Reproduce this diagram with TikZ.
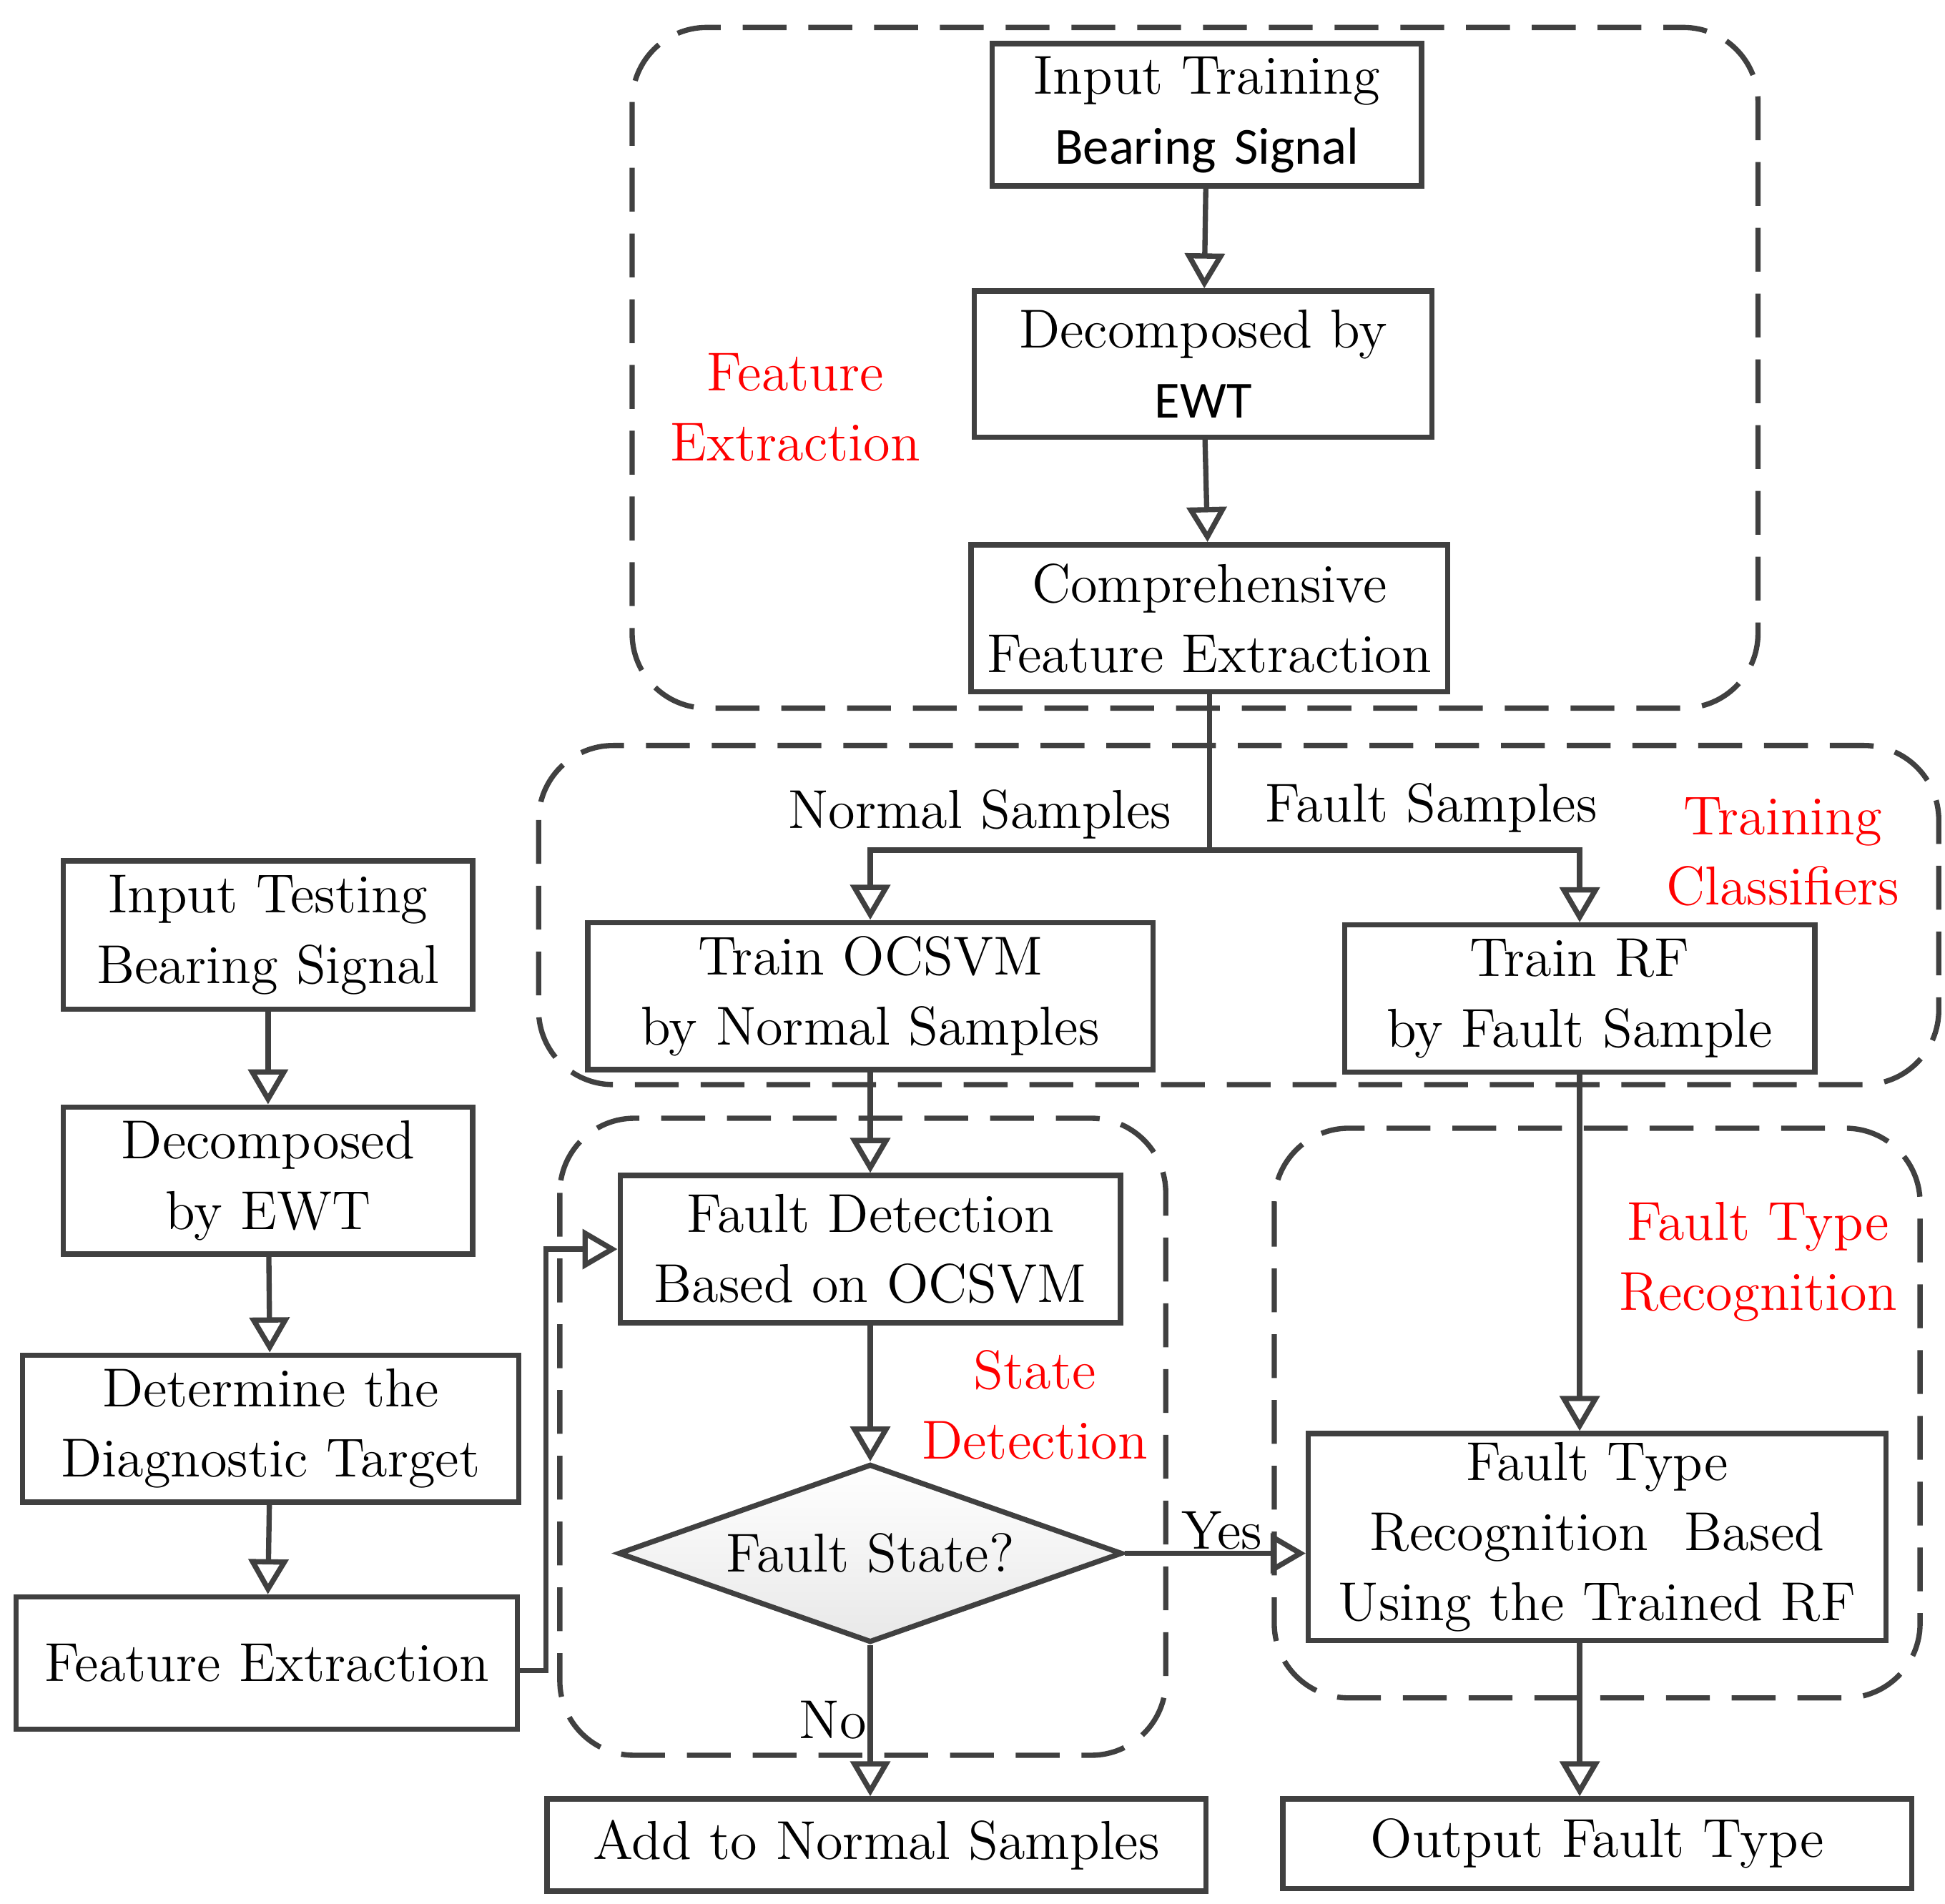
\documentclass[tikz,border=0pt]{standalone}
\usepackage{fontspec}
\newfontfamily\sansf[Scale=0.95]{Carlito}
\usetikzlibrary{shapes.geometric,arrows.meta}
\definecolor{linegray}{rgb}{0.25,0.25,0.25}
\tikzset{
  box/.style={draw=linegray,line width=1.2pt,align=center,inner sep=0pt,font=\fontsize{12.5}{16}\selectfont},
  flow/.style={draw=linegray,line width=1.2pt,-{Triangle[open,length=8pt,width=9pt]}},
  region/.style={draw=linegray,line width=1.2pt,dash pattern=on 10pt off 5pt,rounded corners=17pt},
  tag/.style={text=red,align=center,font=\fontsize{12.5}{16}\selectfont},
  lbl/.style={font=\fontsize{12.5}{16}\selectfont}
}
\begin{document}
\begin{tikzpicture}[x=0.01cm,y=-0.01cm]
\useasboundingbox (0,0) rectangle (1560,1527);
% dashed groups
\draw[region] (507,22) rectangle (1410,568);
\draw[region] (432,598) rectangle (1555,870);
\draw[region] (449,897) rectangle (935,1408);
\draw[region] (1022,905) rectangle (1540,1362);
\node[tag] at (638,327) {Feature\\Extraction};
\node[tag] at (1430,683) {Training\\Classifiers};
\node[tag] at (830,1127) {State\\Detection};
\node[tag] at (1410,1012) {Fault Type\\Recognition};
% training branch
\node[box,text width=3.44cm,minimum height=1.14cm] (intrain) at (968,92) {Input Training\\{\sansf Bearing Signal}};
\node[box,text width=3.67cm,minimum height=1.17cm] (dectrain) at (965,292) {Decomposed by\\{\sansf EWT}};
\node[box,text width=3.82cm,minimum height=1.18cm] (comp) at (970,496) {Comprehensive\\Feature Extraction};
\coordinate (split) at (970,682);
\node[box,text width=4.53cm,minimum height=1.18cm] (ocsvm) at (698,799) {Train OCSVM\\by Normal Samples};
\node[box,text width=3.77cm,minimum height=1.18cm] (rf) at (1267,801) {Train RF\\by Fault Sample};
\node[lbl] at (786,653) {Normal Samples};
\node[lbl] at (1148,648) {Fault Samples};
\node[box,text width=4.01cm,minimum height=1.18cm] (fd) at (698,1002) {Fault Detection\\Based on OCSVM};
\node[diamond,draw=linegray,line width=1.2pt,aspect=2.08,minimum width=4.04cm,inner sep=0pt,
  top color=white,bottom color=gray!18,font=\fontsize{12.5}{16}\selectfont] (state) at (698,1246) {Fault State?};
\node[box,text width=4.63cm,minimum height=1.66cm] (ftr) at (1281,1233) {Fault Type\\Recognition\ \ Based\\Using the Trained RF};
\node[box,text width=5.04cm,minimum height=0.72cm] (out) at (1281,1479) {Output Fault Type};
\node[box,text width=5.28cm,minimum height=0.74cm] (add) at (703,1480) {Add to Normal Samples};
\node[lbl] at (980,1228) {Yes};
\node[lbl] at (668,1380) {No};
% testing branch
\node[box,text width=3.28cm,minimum height=1.19cm] (intest) at (215,750) {Input Testing\\Bearing Signal};
\node[box,text width=3.28cm,minimum height=1.18cm] (dectest) at (215,947) {Decomposed\\by EWT};
\node[box,text width=3.98cm,minimum height=1.18cm] (target) at (217,1146) {Determine the\\Diagnostic Target};
\node[box,text width=4.02cm,minimum height=1.06cm] (fe) at (214,1334) {Feature Extraction};
\coordinate (bend) at (438,1340);
% connectors
\draw[flow] (intrain) -- (dectrain);
\draw[flow] (dectrain) -- (comp);
\draw[draw=linegray,line width=1.2pt] (comp) -- (split);
\draw[flow] (split) -| (ocsvm.north);
\draw[flow] (split) -| (rf.north);
\draw[flow] (ocsvm) -- (fd);
\draw[flow] (fd) -- (state);
\draw[flow] (state.east) -- (ftr.west |- state.east);
\draw[flow] (state.south) -- (add.north -| state.south);
\draw[flow] (rf.south) -- (rf.south |- ftr.north);
\draw[flow] (rf.south |- ftr.south) -- (rf.south |- out.north);
\draw[flow] (intest) -- (dectest);
\draw[flow] (dectest) -- (target);
\draw[flow] (target) -- (fe);
\draw[flow] (fe.east |- bend) -- (bend) |- (fd.west);
\end{tikzpicture}
\end{document}
